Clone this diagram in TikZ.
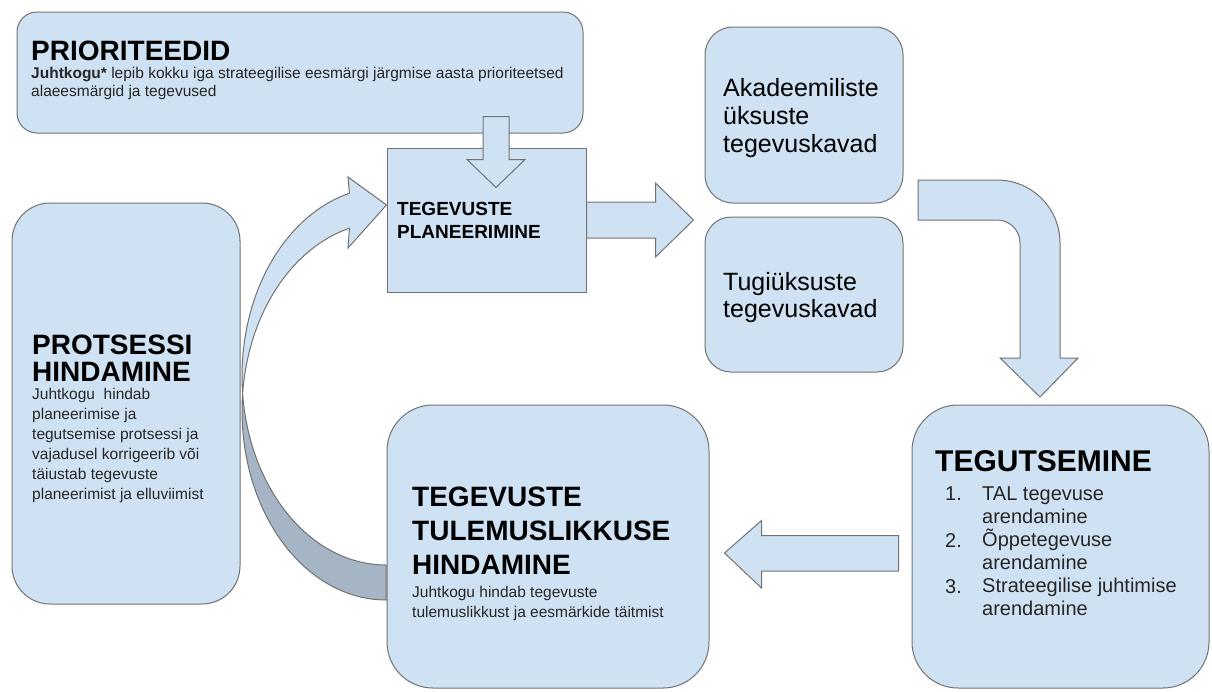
\documentclass[tikz,border=0pt]{standalone}
\usepackage{fontspec}
\setmainfont{Liberation Sans}
\definecolor{boxblue}{HTML}{CFE2F3}
\definecolor{backblue}{HTML}{A5B5C5}
\definecolor{edgegray}{HTML}{727272}
\begin{document}
\begin{tikzpicture}[x=1pt,y=-1pt,
    box/.style={draw=edgegray,fill=boxblue,line width=1pt,rounded corners=#1,inner sep=0pt},
    box/.default=0pt,
    blockarrow/.style={draw=edgegray,fill=boxblue,line width=1pt,line join=miter},
    txt/.style={anchor=north west,inner sep=0pt,align=left},
    bigtitle/.style={txt,font=\fontsize{28}{27}\selectfont\bfseries},
    subtxt/.style={txt,font=\fontsize{15.5}{20}\selectfont,text=black!85}]
        \useasboundingbox (0,0) rectangle (1212,691);
        \def\cx{386} \def\rx{144} \def\ry{189}

        % boxes
        \node[box=20pt,minimum width=566pt,minimum height=121pt] (prio) at (300,72.5) {};
        \node[box,minimum width=199pt,minimum height=144pt] (plan) at (486.5,220) {};
        \node[box=28pt,minimum width=198pt,minimum height=176pt] (akad) at (804,115) {};
        \node[box=26pt,minimum width=198pt,minimum height=155pt] (tugi) at (804,294.5) {};
        \node[box=38pt,minimum width=228pt,minimum height=401pt] (protsess) at (126,403.5) {};

        % curved arrow, back side first
        \draw[blockarrow,fill=backblue]
        plot[domain=185.3:90,samples=40] ({\cx+\rx*cos(\x)},{411+\ry*sin(\x)})
        -- plot[domain=90:174.7,samples=40] ({\cx+\rx*cos(\x)},{376+\ry*sin(\x)})
        -- cycle;
        \draw[blockarrow]
        plot[domain=174.7:255.3,samples=40] ({\cx+\rx*cos(\x)},{376+\ry*sin(\x)})
        -- (348,177) -- (plan.west |- 0,205) -- (348,248)
        -- plot[domain=255.3:185.3,samples=40] ({\cx+\rx*cos(\x)},{411+\ry*sin(\x)})
        -- cycle;

        \node[box=46pt,minimum width=322pt,minimum height=283pt] (tulemus) at (548,546.5) {};
        \node[box=46pt,minimum width=297pt,minimum height=283pt] (tegut) at (1060.5,546.5) {};

        % straight arrows
        \draw[blockarrow,shift={(plan.north)}]
        (-3.5,-31) -- (22.5,-31) -- (22.5,12) -- (38.5,12) -- (9.5,40)
        -- (-19.5,12) -- (-3.5,12) -- cycle;
        \draw[blockarrow,shift={(plan.east)}]
        (0,-18) -- (69,-18) -- (69,-37) -- (107,0) -- (69,37) -- (69,18) -- (0,18) -- cycle;
        \draw[blockarrow,shift={(tegut.west)}]
        (-13,-11) -- (-150,-11) -- (-150,-26) -- (-187,6.5) -- (-150,41.5)
        -- (-150,24.5) -- (-13,24.5) -- cycle;

        % bent arrow down to tegutsemine
        \draw[blockarrow]
        (918,180) -- (997,180) arc (90:0:63pt) -- (1060,358) -- (1078,358)
        -- (1040,397) -- (1000,358) -- (1020,358)
        -- (1020,243) arc (0:90:23pt) -- (918,220) -- cycle;

        % texts
        \node[bigtitle] (priotitle) at (31,41) {PRIORITEEDID};
        \node[subtxt,font=\fontsize{15.5}{18}\selectfont] (priotext) at (31,67)
        {\textbf{Juhtkogu*} lepib kokku iga strateegilise eesmärgi järgmise aasta prioriteetsed\\alaeesmärgid ja tegevused};
        \node[txt,font=\fontsize{19}{23}\selectfont\bfseries] (plantext) at (397,202)
        {TEGEVUSTE\\PLANEERIMINE};
        \node[txt,font=\fontsize{25}{28}\selectfont] (akadtext) at (723,78)
        {Akadeemiliste\\üksuste\\tegevuskavad};
        \node[txt,font=\fontsize{25}{27}\selectfont] (tugitext) at (723,272)
        {Tugiüksuste\\tegevuskavad};
        \node[bigtitle] (protsesstitle) at (32,335) {PROTSESSI\\HINDAMINE};
        \node[subtxt] (protsesstext) at (32,388)
        {Juhtkogu\ \ hindab\\planeerimise ja\\tegutsemise protsessi ja\\vajadusel korrigeerib või\\täiustab tegevuste\\planeerimist ja elluviimist};
        \node[bigtitle,font=\fontsize{28}{34}\selectfont\bfseries] (tulemustitle) at (412,487)
        {TEGEVUSTE\\TULEMUSLIKKUSE\\HINDAMINE};
        \node[subtxt] (tulemustext) at (412,586)
        {Juhtkogu hindab tegevuste\\tulemuslikkust ja eesmärkide täitmist};
        \node[bigtitle,font=\fontsize{30}{34}\selectfont\bfseries] (teguttitle) at (935,450) {TEGUTSEMINE};
        \foreach \n/\y in {1/487,2/533,3/579}
            \node[txt,font=\fontsize{20}{23}\selectfont,text=black!85] (num\n) at (945,\y) {\n.};
        \node[txt,font=\fontsize{20}{23}\selectfont,text=black!85] (tegutlist) at (982,487)
        {TAL tegevuse\\arendamine\\Õppetegevuse\\arendamine\\Strateegilise juhtimise\\arendamine};
\end{tikzpicture}
\end{document}
